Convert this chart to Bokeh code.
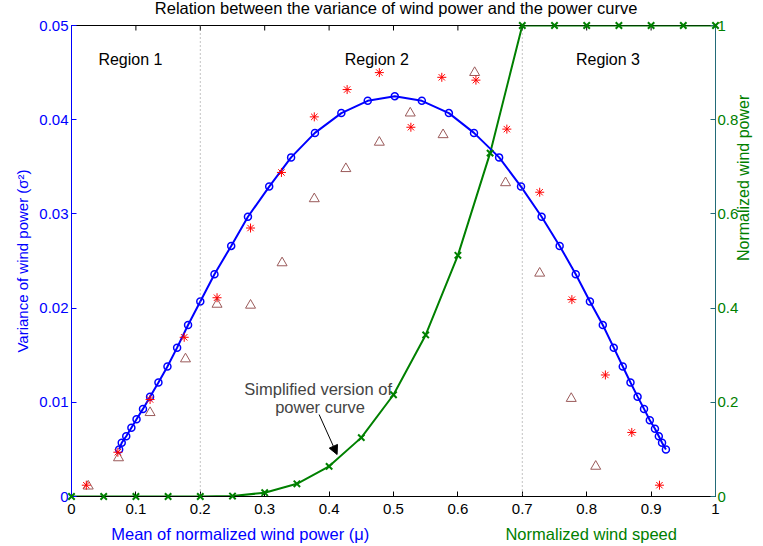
from bokeh.plotting import figure
from bokeh.layouts import column
from bokeh.models import (Range1d, LinearAxis, FixedTicker, Span, Label, Arrow, NormalHead)
from bokeh.embed import file_html
from bokeh.resources import INLINE
import math

# ---------------- data ----------------
mu = [0.074, 0.078, 0.085, 0.093, 0.101, 0.111, 0.122, 0.135, 0.149, 0.164,
      0.181, 0.200, 0.222, 0.248, 0.274, 0.307, 0.341, 0.378, 0.419, 0.460,
      0.502, 0.544, 0.586, 0.625, 0.664, 0.698, 0.730, 0.758, 0.783, 0.805,
      0.825, 0.842, 0.856, 0.868, 0.879, 0.889, 0.898, 0.906, 0.912, 0.917, 0.923]
var = [0.0050, 0.0057, 0.0064, 0.0073, 0.0082, 0.0093, 0.0106, 0.0121, 0.0138, 0.0158,
       0.0182, 0.0207, 0.0236, 0.0266, 0.0297, 0.0329, 0.0360, 0.0386, 0.0407, 0.0420,
       0.0425, 0.0420, 0.0407, 0.0386, 0.0360, 0.0329, 0.0297, 0.0266, 0.0236, 0.0207,
       0.0182, 0.0158, 0.0138, 0.0121, 0.0106, 0.0093, 0.0081, 0.0072, 0.0064, 0.0057, 0.0050]

star_x = [0.023, 0.072, 0.122, 0.175, 0.226, 0.278, 0.326, 0.377, 0.428, 0.478,
          0.527, 0.575, 0.628, 0.676, 0.727, 0.777, 0.829, 0.870, 0.913]
star_y = [0.0012, 0.0047, 0.0103, 0.0169, 0.0211, 0.0285, 0.0344, 0.0403, 0.0432, 0.0450,
          0.0392, 0.0445, 0.0442, 0.0390, 0.0323, 0.0209, 0.0129, 0.0068, 0.0012]

tri_x = [0.026, 0.073, 0.122, 0.177, 0.226, 0.278, 0.327, 0.377, 0.426, 0.478,
         0.526, 0.577, 0.626, 0.674, 0.727, 0.776, 0.814]
tri_y = [0.0011, 0.0041, 0.0089, 0.0146, 0.0204, 0.0203, 0.0248, 0.0316, 0.0348, 0.0376,
         0.0407, 0.0384, 0.0450, 0.0333, 0.0237, 0.0104, 0.0032]

speed = [0, 0.05, 0.1, 0.15, 0.2, 0.25, 0.3, 0.35, 0.4, 0.45, 0.5,
         0.55, 0.6, 0.65, 0.7, 0.75, 0.8, 0.85, 0.9, 0.95, 1]
power = [0, 0, 0, 0, 0, 0.001, 0.008, 0.027, 0.064, 0.125, 0.216,
         0.343, 0.512, 0.729, 1, 1, 1, 1, 1, 1, 1]

x_ticks = [0, 0.1, 0.2, 0.3, 0.4, 0.5, 0.6, 0.7, 0.8, 0.9, 1]
x_tick_labels = ["0", "0.1", "0.2", "0.3", "0.4", "0.5", "0.6", "0.7", "0.8", "0.9", "1"]
y_ticks = [0, 0.01, 0.02, 0.03, 0.04, 0.05]
y_tick_labels = ["0", "0.01", "0.02", "0.03", "0.04", "0.05"]
y2_ticks = [0, 0.2, 0.4, 0.6, 0.8, 1]
y2_tick_labels = ["0", "0.2", "0.4", "0.6", "0.8", "1"]

region_names = ["Region 1", "Region 2", "Region 3"]
region_x = [0.0915, 0.474, 0.833]
region_bounds = [0.2, 0.7]

title_text = "Relation between the variance of wind power and the power curve"
captions = ["Mean of normalized wind power (μ)", "Normalized wind speed"]
caption_x = [0.262, 0.807]

FONT = "Liberation Sans"
BLUE = "#0000ff"
GREEN = "#008000"
TEAL = "#236b78"
BROWN = "#9a5a5a"

Y_MAX = 0.05
FRAME_H = 471
TICK_PX = 5
W = 763
TITLE_H = 18
MAIN_H = 502
CAP_H = 26
BORDER_L, BORDER_R = 71, 47


def key(v):
    return "%g" % v


def strip(height):
    f = figure(width=W, height=height, output_backend="svg", toolbar_location=None,
               x_range=Range1d(0, 1), y_range=Range1d(0, 1),
               min_border_left=BORDER_L, min_border_right=BORDER_R,
               min_border_top=0, min_border_bottom=0,
               x_axis_location=None, y_axis_location=None)
    f.xgrid.visible = False
    f.ygrid.visible = False
    f.outline_line_color = None
    return f


p = figure(width=W, height=MAIN_H, output_backend="svg", toolbar_location=None,
           x_range=Range1d(0, 1), y_range=Range1d(0, Y_MAX),
           min_border_left=BORDER_L, min_border_right=BORDER_R,
           min_border_top=25 - TITLE_H, min_border_bottom=24,
           x_axis_location=None, y_axis_location=None)
p.extra_y_ranges = {"power": Range1d(0, 1)}
p.xgrid.visible = False
p.ygrid.visible = False
p.outline_line_color = "black"
p.outline_line_width = 1


def style_axis(ax, color, label_color):
    ax.axis_line_color = color
    ax.major_tick_line_color = color
    ax.minor_tick_line_color = None
    ax.major_tick_in = TICK_PX
    ax.major_tick_out = 0
    ax.major_label_text_color = label_color
    ax.major_label_text_font = FONT
    ax.major_label_text_font_size = "15px"


xb = LinearAxis(ticker=FixedTicker(ticks=x_ticks),
                major_label_overrides={key(v): s for v, s in zip(x_ticks, x_tick_labels)})
style_axis(xb, "black", "black")
xb.major_label_standoff = 7
p.add_layout(xb, "below")

yl = LinearAxis(ticker=FixedTicker(ticks=y_ticks),
                major_label_overrides={key(v): s for v, s in zip(y_ticks, y_tick_labels)},
                axis_label="Variance of wind power (σ²)")
style_axis(yl, BLUE, BLUE)
yl.major_label_standoff = 3
yl.axis_label_text_color = BLUE
yl.axis_label_text_font = FONT
yl.axis_label_text_font_size = "15px"
yl.axis_label_text_font_style = "normal"
yl.axis_label_standoff = 5
p.add_layout(yl, "left")

yr = LinearAxis(y_range_name="power", ticker=FixedTicker(ticks=y2_ticks),
                major_label_overrides={key(v): s for v, s in zip(y2_ticks, y2_tick_labels)},
                axis_label="Normalized wind power")
style_axis(yr, TEAL, GREEN)
yr.major_label_standoff = 2
yr.axis_label_text_color = GREEN
yr.axis_label_text_font = FONT
yr.axis_label_text_font_size = "16px"
yr.axis_label_text_font_style = "normal"
yr.axis_label_standoff = 2
yr.axis_label_orientation = math.pi / 2
p.add_layout(yr, "right")

# top-edge ticks (box ticks, as in the reference)
tick_len = TICK_PX * Y_MAX / FRAME_H
p.segment(x0=x_ticks, y0=[Y_MAX] * len(x_ticks), x1=x_ticks,
          y1=[Y_MAX - tick_len] * len(x_ticks), line_color="black", line_width=1)

for b in region_bounds:
    p.add_layout(Span(location=b, dimension="height", line_color="#888888",
                      line_dash="1 3", line_width=1))

for name, rx in zip(region_names, region_x):
    p.add_layout(Label(x=rx, y=0.0464, text=name, text_font=FONT, text_font_size="16px",
                       text_color="black", text_align="center", text_baseline="middle"))

p.line(speed, power, y_range_name="power", line_color=GREEN, line_width=2)
gx = p.scatter(speed, power, y_range_name="power", marker="x", size=9,
               line_color=GREEN, line_width=2)
gx.level = "overlay"

p.line(mu, var, line_color=BLUE, line_width=2)
p.scatter(mu, var, marker="circle", size=7, fill_color=None,
          line_color=BLUE, line_width=1.5)

p.scatter(tri_x, tri_y, marker="triangle", size=10, fill_color=None,
          line_color=BROWN, line_width=1)
p.scatter(star_x, star_y, marker="asterisk", size=9, line_color="red", line_width=1)

p.add_layout(Label(x=0.383, y=0.01136, text="Simplified version of", text_font=FONT,
                   text_font_size="16.5px", text_align="center", text_baseline="middle"))
p.add_layout(Label(x=0.386, y=0.00945, text="power curve", text_font=FONT,
                   text_font_size="16.5px", text_align="center", text_baseline="middle"))
p.add_layout(Arrow(x_start=0.3845, y_start=0.0087, x_end=0.4124, y_end=0.00446,
                   line_color="black", line_width=1,
                   end=NormalHead(size=9, fill_color="black", line_color="black")))

# title strip above the plot
top = strip(TITLE_H)
top.x_range = p.x_range
top.add_layout(Label(x=0.504, y=0.56, text=title_text, text_font=FONT,
                     text_font_size="16.5px", text_color="black",
                     text_align="center", text_baseline="middle"))

# caption strip under the x axis
cap = strip(CAP_H)
cap.x_range = p.x_range
for text, cx, col in zip(captions, caption_x, [BLUE, GREEN]):
    cap.add_layout(Label(x=cx, y=0.5, text=text, text_font=FONT, text_font_size="16.5px",
                         text_color=col, text_align="center", text_baseline="middle"))

layout = column(top, p, cap, spacing=0)
open("out.html", "w").write(file_html(layout, INLINE))
